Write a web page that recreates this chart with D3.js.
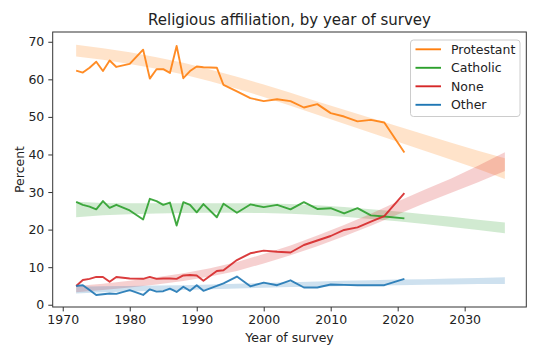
<!DOCTYPE html>
<html>
<head>
<meta charset="utf-8">
<script src="https://cdn.jsdelivr.net/npm/d3@7"></script>
<style>
  body { margin: 0; background: #fff; }
  #chart { width: 540px; height: 360px; }
  text { font-family: "DejaVu Sans", sans-serif; fill: #222; }
</style>
</head>
<body>
<div id="chart"></div>
<script>
// Survey years and observed shares (percent)
var years = [1972, 1973, 1974, 1975, 1976, 1977, 1978, 1980, 1982, 1983, 1984, 1985, 1986,
  1987, 1988, 1989, 1990, 1991, 1993, 1994, 1996, 1998, 2000, 2002, 2004, 2006, 2008,
  2010, 2012, 2014, 2016, 2018, 2021];

var protestant = [62.3, 61.8, 63.1, 64.7, 62.2, 65.0, 63.3, 64.1, 67.9, 60.2, 62.7, 62.7, 61.7,
  68.9, 60.3, 62.2, 63.4, 63.2, 63.1, 58.5, 56.8, 55.0, 54.2, 54.7, 54.2, 52.5, 53.4,
  51.0, 50.1, 48.8, 49.2, 48.5, 40.5];
var catholic = [27.4, 26.6, 26.1, 25.4, 27.6, 25.8, 26.6, 25.1, 22.7, 28.2, 27.6, 26.6, 27.2,
  21.1, 27.3, 26.6, 24.6, 26.8, 23.3, 26.9, 24.5, 26.7, 26.0, 26.6, 25.4, 27.3, 25.5,
  25.7, 24.3, 25.7, 23.8, 23.5, 23.0];
var none = [5.0, 6.6, 6.9, 7.4, 7.4, 6.1, 7.4, 7.0, 6.9, 7.4, 6.9, 7.0, 7.0,
  6.9, 7.8, 7.9, 7.8, 6.4, 9.0, 9.2, 11.9, 13.7, 14.4, 14.1, 13.9, 15.9, 17.1,
  18.3, 19.9, 20.6, 22.1, 23.6, 29.7];
var other = [5.0, 5.2, 3.9, 2.6, 2.8, 3.0, 2.9, 3.9, 2.6, 4.1, 3.5, 3.6, 4.3,
  3.4, 4.8, 3.7, 5.2, 3.7, 5.0, 5.7, 7.5, 4.9, 5.9, 5.2, 6.5, 4.6, 4.6,
  5.4, 5.3, 5.2, 5.2, 5.2, 6.9];

// Predicted ranges (low / high) out to 2036
var bandYears = [1972, 1976, 1980, 1984, 1988, 1992, 1996, 2000, 2004, 2008, 2012, 2016,
  2020, 2024, 2028, 2032, 2036];
var protestantLow  = [66.1, 65.2, 64.1, 62.8, 61.3, 59.5, 57.5, 55.3, 53.0, 50.6, 48.2, 45.8, 43.4, 41.0, 38.6, 36.1, 33.5];
var protestantHigh = [69.2, 68.3, 67.2, 65.9, 64.4, 62.6, 60.7, 58.6, 56.4, 54.1, 51.9, 49.7, 47.5, 45.3, 43.1, 41.0, 39.0];
var catholicLow  = [23.3, 23.8, 24.1, 24.3, 24.4, 24.5, 24.5, 24.4, 24.2, 23.9, 23.4, 22.8, 22.2, 21.5, 20.7, 19.9, 19.0];
var catholicHigh = [27.4, 27.1, 27.0, 27.0, 27.0, 27.0, 27.0, 27.0, 26.8, 26.5, 26.0, 25.4, 24.8, 24.1, 23.4, 22.6, 21.9];
var noneLow  = [3.3, 3.9, 4.6, 5.4, 6.3, 7.5, 9.0, 11.0, 13.2, 15.6, 18.2, 21.0, 24.0, 27.0, 29.8, 32.6, 35.6];
var noneHigh = [5.0, 5.6, 6.4, 7.3, 8.4, 9.7, 11.4, 13.5, 15.8, 18.4, 21.2, 24.2, 27.5, 30.6, 33.6, 37.0, 40.6];
var otherLow  = [3.0, 3.3, 3.5, 3.7, 3.9, 4.1, 4.3, 4.5, 4.7, 4.8, 5.0, 5.1, 5.2, 5.3, 5.4, 5.5, 5.5];
var otherHigh = [4.8, 4.9, 5.0, 5.1, 5.2, 5.4, 5.6, 5.8, 6.0, 6.2, 6.4, 6.5, 6.7, 6.8, 7.0, 7.1, 7.3];

var seriesNames = ["Protestant", "Catholic", "None", "Other"];
var xTicks = [1970, 1980, 1990, 2000, 2010, 2020, 2030];
var yTicks = [0, 10, 20, 30, 40, 50, 60, 70];

var width = 540, height = 360;
var plotLeft = 52.7, plotRight = 526.3, plotTop = 32, plotBottom = 307;

var svg = d3.select("#chart").append("svg")
  .attr("width", width)
  .attr("height", height);

var x = d3.scaleLinear().domain([1968.5, 2039.2]).range([plotLeft, plotRight]);
var y = d3.scaleLinear().domain([-0.6, 72.6]).range([plotBottom, plotTop]);

var colors = ["#ff7f0e", "#2ca02c", "#d62728", "#1f77b4"];
var vals = [protestant, catholic, none, other];
var lows = [protestantLow, catholicLow, noneLow, otherLow];
var highs = [protestantHigh, catholicHigh, noneHigh, otherHigh];

var series = seriesNames.map(function(name, k) {
  return {name: name, color: colors[k], vals: vals[k], lo: lows[k], hi: highs[k]};
});

var area = d3.area()
  .x(function(d) { return x(d.year); })
  .y0(function(d) { return y(d.lo); })
  .y1(function(d) { return y(d.hi); });

var line = d3.line()
  .x(function(d) { return x(d.year); })
  .y(function(d) { return y(d.v); });

var g = svg.append("g");

// Bands first, then lines
series.forEach(function(s) {
  var band = bandYears.map(function(yr, i) { return {year: yr, lo: s.lo[i], hi: s.hi[i]}; });
  g.append("path")
    .datum(band)
    .attr("d", area)
    .attr("fill", s.color)
    .attr("fill-opacity", 0.22)
    .attr("stroke", "none");
});

series.forEach(function(s) {
  var pts = years.map(function(yr, i) { return {year: yr, v: s.vals[i]}; });
  g.append("path")
    .datum(pts)
    .attr("d", line)
    .attr("fill", "none")
    .attr("stroke", s.color)
    .attr("stroke-opacity", 0.9)
    .attr("stroke-width", 1.9)
    .attr("stroke-linejoin", "round");
});

// Axes
var xAxis = d3.axisBottom(x).tickValues(xTicks).tickFormat(d3.format("d")).tickSize(4.4).tickPadding(4);
var yAxis = d3.axisLeft(y).tickValues(yTicks).tickSize(4.4).tickPadding(4);

var gx = svg.append("g").attr("transform", "translate(0," + plotBottom + ")").call(xAxis);
var gy = svg.append("g").attr("transform", "translate(" + plotLeft + ",0)").call(yAxis);
[gx, gy].forEach(function(a) {
  a.select(".domain").remove();
  a.selectAll("line").attr("stroke", "#333").attr("stroke-width", 1);
  a.selectAll("text").attr("font-size", "12.5px").attr("font-family", "DejaVu Sans").attr("fill", "#222");
});

// Frame
svg.append("rect")
  .attr("x", plotLeft).attr("y", plotTop)
  .attr("width", plotRight - plotLeft).attr("height", plotBottom - plotTop)
  .attr("fill", "none")
  .attr("stroke", "#333")
  .attr("stroke-width", 1);

// Title and labels
svg.append("text")
  .attr("x", (plotLeft + plotRight) / 2).attr("y", 24.5)
  .attr("text-anchor", "middle")
  .attr("font-size", "15px")
  .text("Religious affiliation, by year of survey");

svg.append("text")
  .attr("x", (plotLeft + plotRight) / 2).attr("y", 341.5)
  .attr("text-anchor", "middle")
  .attr("font-size", "12.5px")
  .text("Year of survey");

svg.append("text")
  .attr("transform", "translate(24," + ((plotTop + plotBottom) / 2) + ") rotate(-90)")
  .attr("text-anchor", "middle")
  .attr("font-size", "12.5px")
  .text("Percent");

// Legend
var legend = svg.append("g").attr("transform", "translate(410.5,40)");
legend.append("rect")
  .attr("width", 109.5).attr("height", 76.5)
  .attr("rx", 3)
  .attr("fill", "#fff").attr("fill-opacity", 0.8)
  .attr("stroke", "#ccc").attr("stroke-width", 1);

var items = legend.selectAll(".item")
  .data(series)
  .enter().append("g")
  .attr("class", "item")
  .attr("transform", function(d, i) { return "translate(0," + (9.3 + i * 18.5) + ")"; });

items.append("line")
  .attr("x1", 5).attr("x2", 30.5)
  .attr("stroke", function(d) { return d.color; })
  .attr("stroke-width", 1.9);

items.append("text")
  .attr("x", 40.5).attr("y", 4.5)
  .attr("font-size", "12.5px")
  .text(function(d) { return d.name; });
</script>
</body>
</html>
